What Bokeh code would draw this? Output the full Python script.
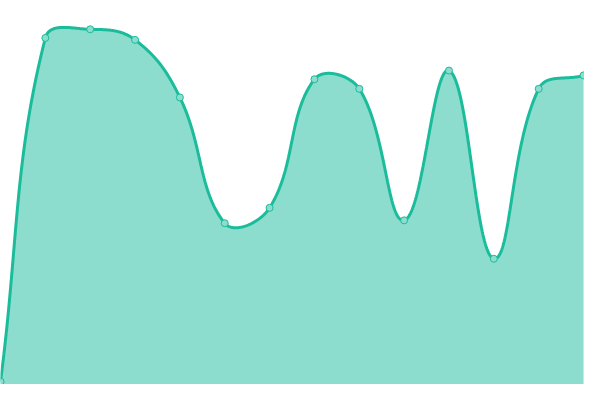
import numpy as np
from bokeh.plotting import figure
from bokeh.models import Range1d
from bokeh.embed import file_html
from bokeh.resources import INLINE

# Data (index positions and values)
labels = list(range(14))
values = [3, 361, 370, 359, 299, 168, 184, 318, 308, 171, 327, 131, 308, 322]

LINE = "#1abc9c"
FILL = "#8cddcd"

# 600x400 window minus the page's 8px margin on each side
W, H = 584, 384
REF_W, REF_H = 600.0, 400.0
x_max = 13 * 600.0 / 599.0
step = 599.0 / 13  # reference pixel step between points

# Chart.js style spline (tension 0.4) computed in reference pixel space
tension = 0.4
pts = [(i * step, v) for i, v in zip(labels, values)]
n = len(pts)
cps = []
for i in range(n):
    prev = pts[max(0, i - 1)]
    cur = pts[i]
    nxt = pts[min(n - 1, i + 1)]
    d01 = np.hypot(cur[0] - prev[0], cur[1] - prev[1])
    d12 = np.hypot(nxt[0] - cur[0], nxt[1] - cur[1])
    tot = d01 + d12
    s01 = d01 / tot if tot else 0.0
    s12 = d12 / tot if tot else 0.0
    fa = tension * s01
    fb = tension * s12
    cp_prev = (cur[0] - fa * (nxt[0] - prev[0]), cur[1] - fa * (nxt[1] - prev[1]))
    cp_next = (cur[0] + fb * (nxt[0] - prev[0]), cur[1] + fb * (nxt[1] - prev[1]))
    clamp = lambda p: (min(max(p[0], 0), REF_W), min(max(p[1], 0), REF_H))
    cps.append((clamp(cp_prev), clamp(cp_next)))

xs, ys = [], []
t = np.linspace(0, 1, 60)
for i in range(n - 1):
    p0 = np.array(pts[i]); p3 = np.array(pts[i + 1])
    p1 = np.array(cps[i][1]); p2 = np.array(cps[i + 1][0])
    seg = ((1 - t) ** 3)[:, None] * p0 + (3 * (1 - t) ** 2 * t)[:, None] * p1 \
        + (3 * (1 - t) * t ** 2)[:, None] * p2 + (t ** 3)[:, None] * p3
    if i > 0:
        seg = seg[1:]
    xs.extend(seg[:, 0] / step)
    ys.extend(seg[:, 1])

p = figure(width=W, height=H, output_backend="svg", toolbar_location=None,
           x_range=Range1d(0, x_max), y_range=Range1d(0, REF_H),
           min_border=0, min_border_left=0, min_border_right=0,
           min_border_top=0, min_border_bottom=0)
p.axis.visible = False
p.grid.visible = False
p.outline_line_color = None
p.background_fill_color = "white"
p.border_fill_color = "white"

p.varea(x=xs, y1=[0] * len(xs), y2=ys, fill_color=LINE, fill_alpha=0.5)
p.line(xs, ys, line_color=LINE, line_width=3)
p.scatter(labels, values, size=7, fill_color=FILL, line_color=LINE, line_width=1)

open("out.html", "w").write(file_html(p, INLINE))
